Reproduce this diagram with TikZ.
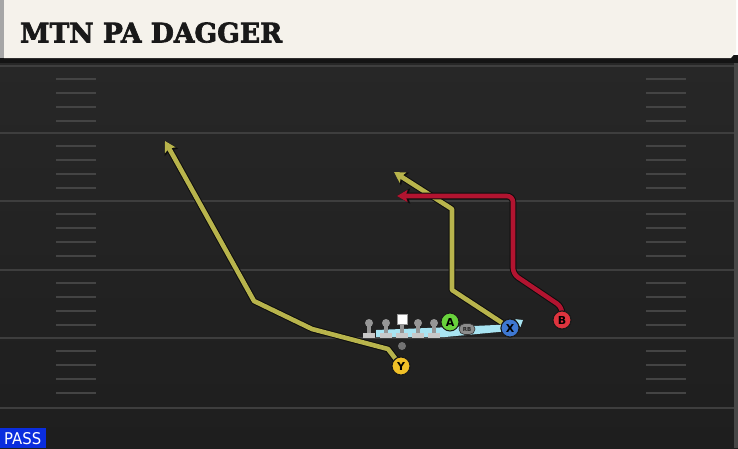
\documentclass[tikz,border=0pt]{standalone}
\usepackage{fontspec}
\setmainfont{DejaVu Sans}
\newfontfamily\titlefont{DejaVu Serif}[BoldFeatures={FakeBold=2.5}]
\usetikzlibrary{arrows.meta,shapes.misc}
\definecolor{cream}{RGB}{245,242,235}
\definecolor{fieldtop}{RGB}{39,39,39}
\definecolor{fieldbot}{RGB}{30,30,30}
\definecolor{yardline}{RGB}{62,62,62}
\definecolor{hashc}{RGB}{68,68,68}
\definecolor{routeyellow}{RGB}{184,180,76}
\definecolor{routered}{RGB}{178,20,48}
\definecolor{motionblue}{RGB}{168,228,242}
\definecolor{py}{RGB}{240,192,40}
\definecolor{px}{RGB}{62,120,210}
\definecolor{pb}{RGB}{222,52,62}
\definecolor{pa}{RGB}{104,210,60}
\definecolor{passblue}{RGB}{10,45,222}
\definecolor{olhead}{RGB}{150,150,150}
\definecolor{olbase}{RGB}{200,200,200}
\pgfdeclarelayer{field}
\pgfdeclarelayer{routes}
\pgfsetlayers{field,routes,main}
\tikzset{
  player/.style={circle, draw=black!90, line width=1pt, fill=#1, minimum size=18pt, inner sep=0pt, font=\bfseries\fontsize{11}{11}\selectfont},
  route/.style={preaction={draw=black!95, line width=6.6pt, line join=round, -{Stealth[length=13pt,width=15pt,inset=2.5pt]}},
    draw=#1, line width=4.6pt, line join=round, -{Stealth[length=10.5pt,width=12pt,inset=2pt]}},
  yardl/.style={draw=yardline, line width=2pt},
  hashm/.style={draw=hashc, line width=1.6pt},
  olhd/.style={circle, fill=olhead, minimum size=8pt, inner sep=0pt},
}
\newcommand{\olman}[2]{%
  \fill[olhead] (#1-2.3,325) rectangle (#1+2.3,333);
  \fill[olbase] (#1-6,333) rectangle (#1+6,337.5);
  \node[olhd] (#2) at (#1,323) {};
}
\begin{document}
\begin{tikzpicture}[x=1pt,y=-1pt]
\useasboundingbox (0,0) rectangle (738,448);
\begin{pgfonlayer}{field}
  % field
  \shade[top color=fieldtop, bottom color=fieldbot] (0,60) rectangle (738,448);
  \fill[black!72] (734,60) rectangle (738,448);
  % yard lines
  \foreach \y in {66,133,201,270,338,408} {
    \draw[yardl] (0,\y) -- (734,\y);
  }
  % hash marks
  \foreach \b in {66,133,201,270,338} {
    \foreach \o in {13,27,41,55} {
      \draw[hashm] (56,\b+\o) -- (96,\b+\o);
      \draw[hashm] (646,\b+\o) -- (686,\b+\o);
    }
  }
  % header
  \fill[black!92] (0,55) rectangle (738,63);
  \fill[black!35] (0,0) rectangle (4,58);
  \fill[cream] (4,0) -- (736,0) -- (736,52) -- (731,58) -- (4,58) -- cycle;
\end{pgfonlayer}

% title
\node[anchor=south west, inner sep=0pt, text=black!90] (title) at (20,43)
  {\resizebox{262pt}{20pt}{\titlefont\bfseries MTN PA DAGGER}};

% PASS label
\fill[passblue] (0,428) rectangle (46,448);
\node[anchor=south west, inner sep=0pt, text=white] (pass) at (4,445)
  {\resizebox{37pt}{12pt}{PASS}};

% players
\node[player=py] (Y) at (401,366) {Y};
\node[player=px] (X) at (510,328) {X};
\node[player=pb] (B) at (562,320) {B};

% route bend points
\coordinate (y1) at (388,349);
\coordinate (y2) at (312,329);
\coordinate (y3) at (254,301);
\coordinate (yend) at (165,141);
\coordinate (d1) at (452,290);
\coordinate (d2) at (452,209);
\coordinate (dend) at (394,172);
\coordinate (r1) at (562,307);
\coordinate (r2) at (513,274);
\coordinate (r3) at (513,196);
\coordinate (rend) at (397,196);
\coordinate (mend) at (523,320);

\begin{pgfonlayer}{routes}
  \draw[route=routeyellow] (Y.center) -- (y1) -- (y2) -- (y3) -- (yend);
  \draw[route=routeyellow] (X.center) -- (d1) -- (d2) -- (dend);
  \draw[route=routered, rounded corners=6pt] (B.center) -- (r1) -- (r2) -- (r3) -- (rend);
  % motion / block band
  \fill[motionblue] (376,330) -- (440,327.5) -- (507,324.5) -- (509,331) -- (445,337) -- (376,337) -- cycle;
  \draw[motionblue, line width=4.5pt, -{Triangle[length=6pt,width=9pt]}] (X.center) -- (mend);
\end{pgfonlayer}

% offensive line
\olman{369}{ol1}
\olman{386}{ol2}
\fill[olhead] (399.7,322) rectangle (404.3,333);
\fill[olbase] (396,333) rectangle (408,337.5);
\node[draw=olhead, fill=white, minimum size=10pt, inner sep=0pt, line width=0.6pt] (C) at (402,319) {};
\olman{418}{ol4}
\olman{434}{ol5}
\node[circle, fill=black!55, minimum size=8pt, inner sep=0pt] (ball) at (402,346) {};

\node[player=pa] (A) at (450,322) {A};
\node[rounded rectangle, draw=black!80, fill=black!45, line width=0.6pt, minimum width=16pt, minimum height=11pt, inner sep=0pt, font=\fontsize{5.5}{6}\selectfont\bfseries, text=black!85] (RB) at (467,329) {RB};

% redraw players on top
\node[player=py] at (Y) {Y};
\node[player=px] at (X) {X};
\node[player=pb] at (B) {B};
\end{tikzpicture}
\end{document}
